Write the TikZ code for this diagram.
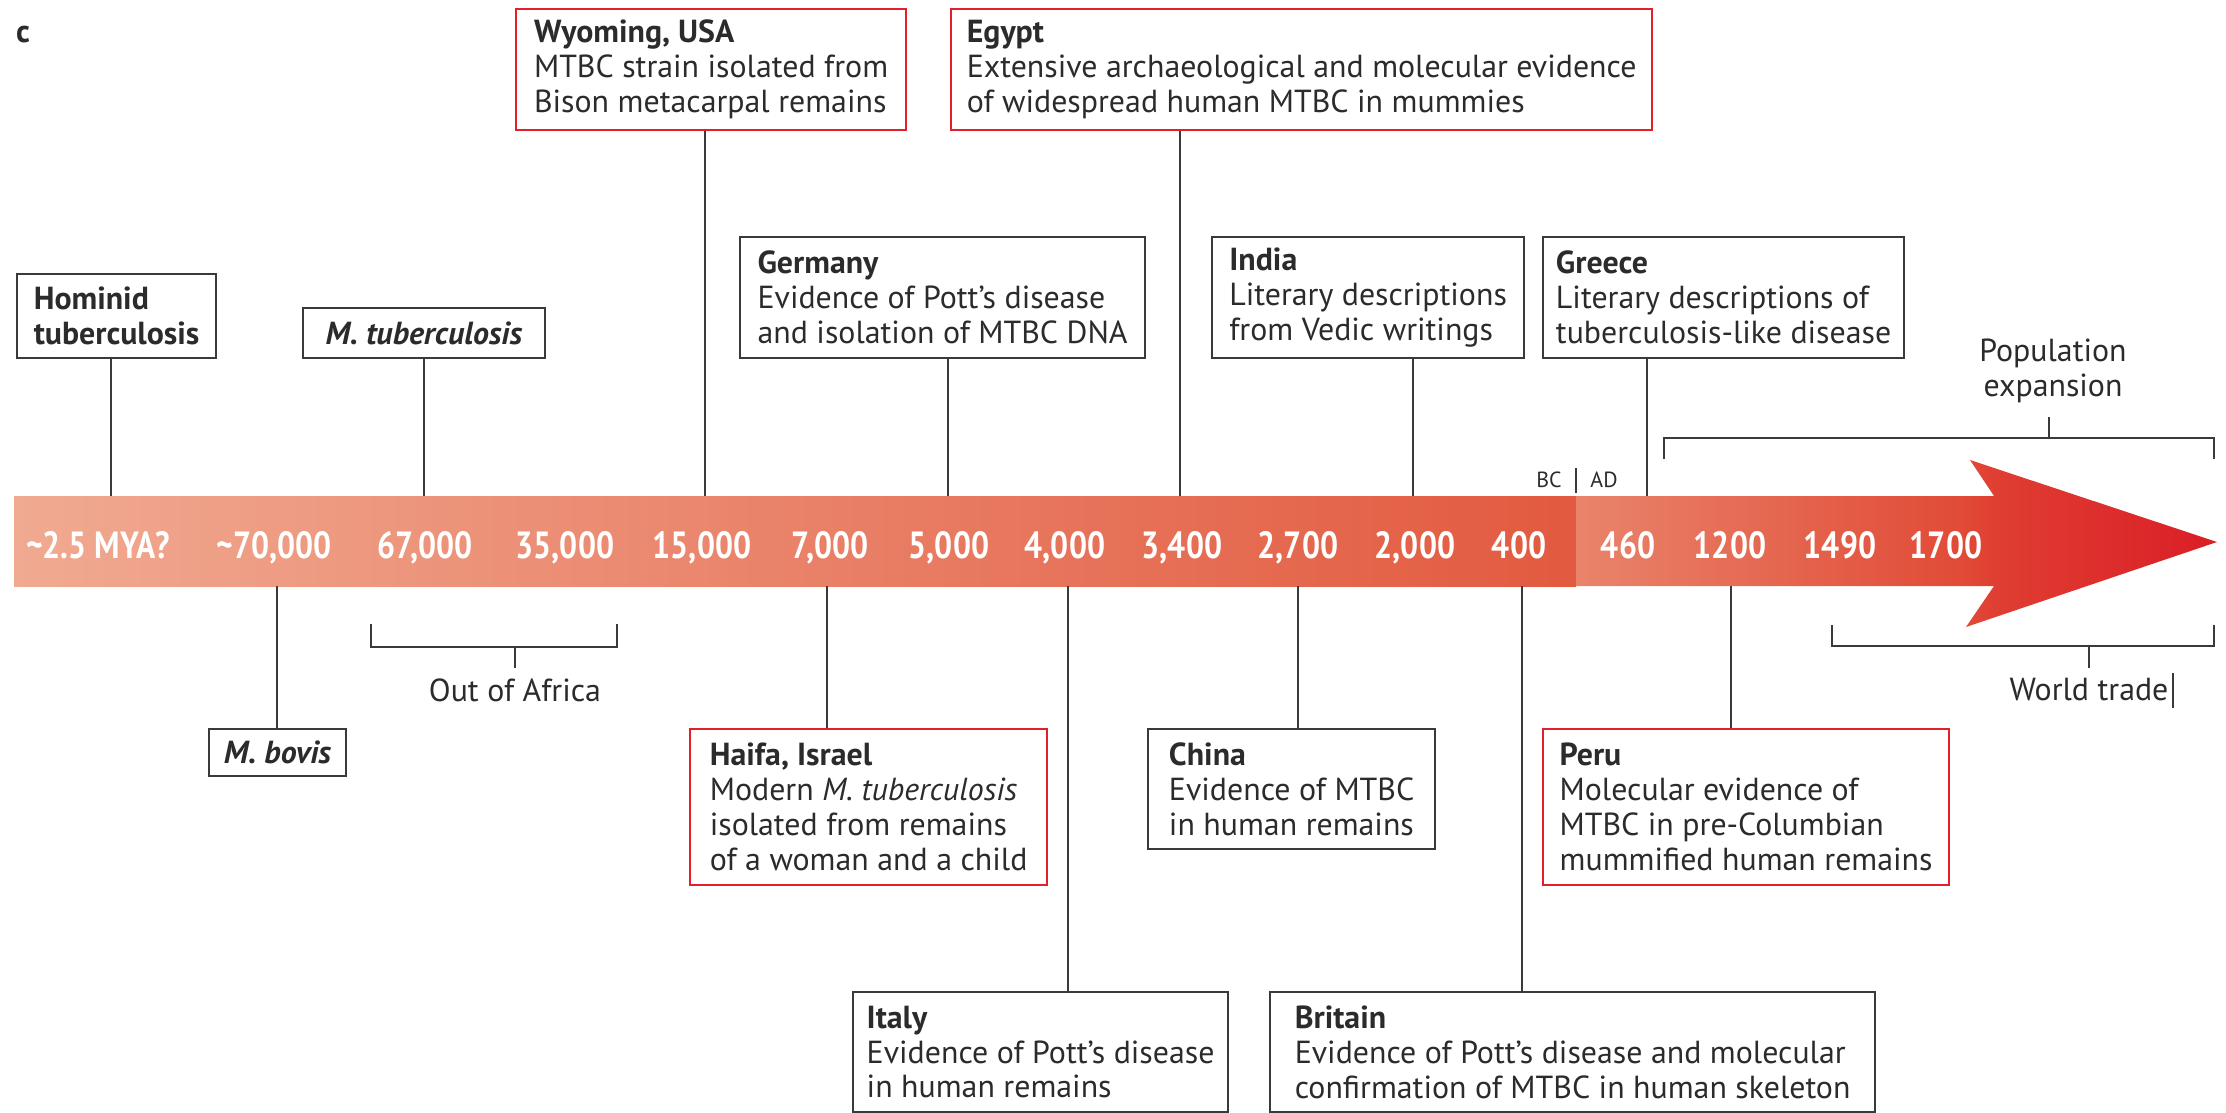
\documentclass[tikz,border=0pt]{standalone}
\usepackage{fontspec}
\setmainfont{PT Sans}
\usetikzlibrary{calc}

\definecolor{ink}{HTML}{2B2B2B}
\definecolor{framegray}{HTML}{3A3A3A}
\definecolor{framered}{HTML}{E2202C}
\definecolor{barA}{HTML}{F0AA91}
\definecolor{barB}{HTML}{E25A40}
\definecolor{adA}{HTML}{E9846B}
\definecolor{adB}{HTML}{E14B37}
\definecolor{adC}{HTML}{DA1E26}

% AD part of the time bar: light start, deepening to red at the arrow tip
\pgfdeclarehorizontalshading{adshade}{100bp}{%
  color(0bp)=(adA); color(25bp)=(adA); color(55bp)=(adB);
  color(58bp)=(adB!70!adC); color(75bp)=(adC); color(100bp)=(adC)}

% narrow bold figures for the dates on the bar
\newcommand{\datefig}[1]{\scalebox{0.84}[1]{#1}}

\tikzset{
  evt/.style={draw=framegray, line width=2.2bp, anchor=north west, align=left,
    inner sep=0pt, text=ink, font=\fontsize{32}{35}\selectfont},
  evtred/.style={evt, draw=framered},
  conn/.style={draw=framegray, line width=2bp},
  barlabel/.style={text=white, anchor=base, inner sep=0pt,
    font=\fontsize{38}{40}\bfseries\selectfont},
  note/.style={text=ink, font=\fontsize{32}{35}\selectfont, align=center},
  era/.style={text=ink, font=\fontsize{22}{24}\selectfont}
}

\begin{document}
\begin{tikzpicture}[x=1bp, y=-1bp]
\useasboundingbox (0,0) rectangle (2226,1112);

% panel letter
\node[text=ink, font=\fontsize{32}{35}\bfseries\selectfont] (panel) at (23,35) {c};

% ---------- time bar ----------
\shade[left color=barA, right color=barB] (14,496) rectangle (1576,586);
\shade[shading=adshade] (1576,496) -- (1994,496) -- (1970,460) -- (2217,542)
  -- (1966,627) -- (1994,586) -- (1576,586) -- cycle;

% dates on the bar
\node[barlabel] (d1)  at (98,558)   {\datefig{\textasciitilde 2.5 MYA?}};
\node[barlabel] (d2)  at (274,558)  {\datefig{\textasciitilde 70,000}};
\node[barlabel] (d3)  at (425,558)  {\datefig{67,000}};
\node[barlabel] (d4)  at (565,558)  {\datefig{35,000}};
\node[barlabel] (d5)  at (702,558)  {\datefig{15,000}};
\node[barlabel] (d6)  at (830,558)  {\datefig{7,000}};
\node[barlabel] (d7)  at (949,558)  {\datefig{5,000}};
\node[barlabel] (d8)  at (1065,558) {\datefig{4,000}};
\node[barlabel] (d9)  at (1182,558) {\datefig{3,400}};
\node[barlabel] (d10) at (1298,558) {\datefig{2,700}};
\node[barlabel] (d11) at (1415,558) {\datefig{2,000}};
\node[barlabel] (d12) at (1519,558) {\datefig{400}};
\node[barlabel] (d13) at (1628,558) {\datefig{460}};
\node[barlabel] (d14) at (1730,558) {\datefig{1200}};
\node[barlabel] (d15) at (1840,558) {\datefig{1490}};
\node[barlabel] (d16) at (1946,558) {\datefig{1700}};

% BC | AD marker
\node[era] (bc) at (1549,480) {BC};
\node[era] (ad) at (1604,480) {AD};
\coordinate (eraTop) at (1576,468);
\coordinate (eraBot) at (1576,493);
\draw[framegray, line width=2bp] (eraTop) -- (eraBot);

% ---------- events above the bar ----------
\node[evtred, minimum width=390bp, minimum height=121bp] (wy) at (515,8)
  {\textbf{Wyoming, USA}\\MTBC strain isolated from\\Bison metacarpal remains};
\node[evtred, minimum width=701bp, minimum height=121bp] (eg) at (950,8)
  {\textbf{Egypt}\\Extensive archaeological and molecular evidence\\of widespread human MTBC in mummies};
\node[evt, minimum width=199bp, minimum height=84bp] (hom) at (16,273)
  {\textbf{Hominid}\\\textbf{tuberculosis}};
\node[evt, minimum width=242bp, minimum height=50bp] (mtb) at (302,307)
  {\textbf{\textit{M. tuberculosis}}};
\node[evt, minimum width=405bp, minimum height=121bp] (ger) at (739,236)
  {\textbf{Germany}\\Evidence of Pott’s disease\\and isolation of MTBC DNA};
\node[evt, minimum width=312bp, minimum height=121bp] (ind) at (1211,236)
  {\textbf{India}\\Literary descriptions\\from Vedic writings};
\node[evt, minimum width=361bp, minimum height=121bp] (gre) at (1542,236)
  {\textbf{Greece}\\Literary descriptions of\\tuberculosis-like disease};

% ---------- events below the bar ----------
\node[evt, minimum width=137bp, minimum height=47bp] (bov) at (208,728)
  {\textbf{\textit{M. bovis}}};
\node[evtred, minimum width=357bp, minimum height=156bp] (hai) at (689,728)
  {\textbf{Haifa, Israel}\\Modern \textit{M. tuberculosis}\\isolated from remains\\of a woman and a child};
\node[evt, minimum width=375bp, minimum height=120bp] (ita) at (852,991)
  {\textbf{Italy}\\Evidence of Pott’s disease\\in human remains};
\node[evt, minimum width=287bp, minimum height=120bp] (chi) at (1147,728)
  {\textbf{China}\\Evidence of MTBC\\in human remains};
\node[evt, minimum width=605bp, minimum height=120bp] (bri) at (1269,991)
  {\textbf{Britain}\\Evidence of Pott’s disease and molecular\\confirmation of MTBC in human skeleton};
\node[evtred, minimum width=406bp, minimum height=156bp] (per) at (1542,728)
  {\textbf{Peru}\\Molecular evidence of\\MTBC in pre-Columbian\\mummified human remains};

% ---------- anchor points on the bar edges ----------
\coordinate (tHom) at (111,496);
\coordinate (tMtb) at (424,496);
\coordinate (tWy)  at (705,496);
\coordinate (tGer) at (948,496);
\coordinate (tEg)  at (1180,496);
\coordinate (tInd) at (1413,496);
\coordinate (tGre) at (1647,496);
\coordinate (bBov) at (277,586);
\coordinate (bHai) at (827,586);
\coordinate (bIta) at (1068,586);
\coordinate (bChi) at (1298,586);
\coordinate (bBri) at (1522,586);
\coordinate (bPer) at (1731,586);

% connectors
\draw[conn] (hom.south -| tHom) -- (tHom);
\draw[conn] (mtb.south -| tMtb) -- (tMtb);
\draw[conn] (wy.south -| tWy)   -- (tWy);
\draw[conn] (ger.south -| tGer) -- (tGer);
\draw[conn] (eg.south -| tEg)   -- (tEg);
\draw[conn] (ind.south -| tInd) -- (tInd);
\draw[conn] (gre.south -| tGre) -- (tGre);
\draw[conn] (bBov) -- (bov.north -| bBov);
\draw[conn] (bHai) -- (hai.north -| bHai);
\draw[conn] (bIta) -- (ita.north -| bIta);
\draw[conn] (bChi) -- (chi.north -| bChi);
\draw[conn] (bBri) -- (bri.north -| bBri);
\draw[conn] (bPer) -- (per.north -| bPer);

% ---------- period brackets ----------
% Out of Africa
\node[note] (oa) at (515,690) {Out of Africa};
\coordinate (oaL) at (371,624);
\coordinate (oaR) at (617,624);
\coordinate (oaM) at (515,647);
\draw[conn] (oaL) -- (oaL |- oaM) -- (oaR |- oaM) -- (oaR);
\draw[conn] (oaM) -- ++(0,21);

% Population expansion
\node[note] (pop) at (2053,371) {Population\\expansion};
\coordinate (peL) at (1664,459);
\coordinate (peR) at (2214,459);
\coordinate (peM) at (2049,438);
\draw[conn] (peL) -- (peL |- peM) -- (peR |- peM) -- (peR);
\draw[conn] (peM) -- ++(0,-21);

% World trade
\node[note] (wt) at (2089,690) {World trade};
\coordinate (wtL) at (1832,625);
\coordinate (wtR) at (2214,625);
\coordinate (wtM) at (2089,646);
\draw[conn] (wtL) -- (wtL |- wtM) -- (wtR |- wtM) -- (wtR);
\draw[conn] (wtM) -- ++(0,22);
\coordinate (caretTop) at (2173,673);
\draw[framegray, line width=1.8bp] (caretTop) -- ++(0,35);

\end{tikzpicture}
\end{document}
